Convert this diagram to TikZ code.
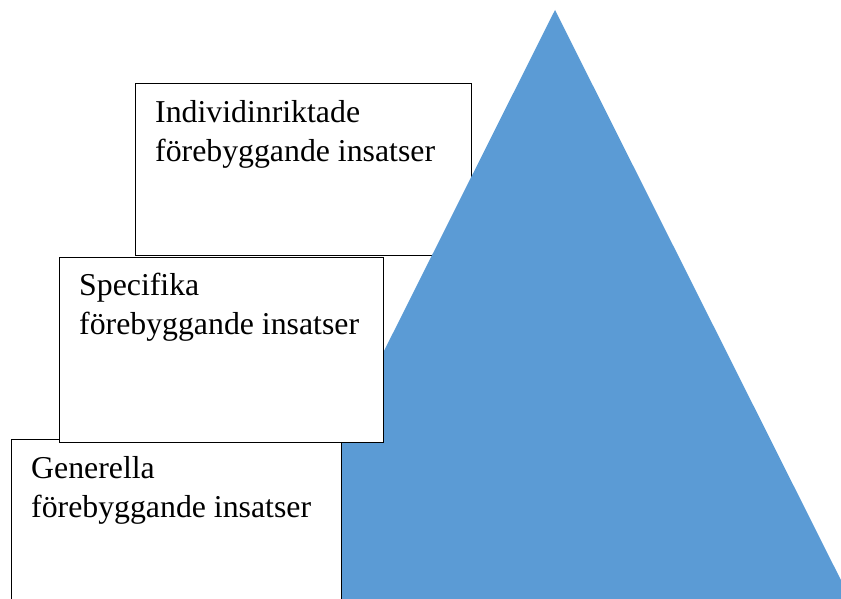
\documentclass[tikz,border=0pt]{standalone}
\usepackage{fontspec}
\setmainfont{Liberation Serif}
\definecolor{pyr}{HTML}{5B9BD5}
\tikzset{
  box/.style={draw=black, line width=1.3pt, fill=white, rectangle, inner sep=0pt, anchor=north west},
  lbl/.style={anchor=base west, align=left, inner sep=0pt, font=\fontsize{31.8}{38.5}\selectfont}
}
\begin{document}
\begin{tikzpicture}[x=1pt,y=-1pt]
\useasboundingbox (0,0) rectangle (841,599);
\clip (0,0) rectangle (841,599);
% top box (behind the triangle)
\node[box, minimum width=336pt, minimum height=172pt] (b1) at (135,83) {};
% pyramid
\fill[pyr] (555,10) coordinate (apex) -- (876,650) -- (234,650) -- cycle;
% bottom box
\node[box, minimum width=330pt, minimum height=200pt] (b3) at (11,439) {};
% middle box
\node[box, minimum width=324pt, minimum height=185pt] (b2) at (59,257) {};
% labels (anchor is the baseline of the second line)
\node[lbl] (t1) at (155,161) {Individinriktade\\förebyggande insatser};
\node[lbl] (t2) at (79,334) {Specifika\\förebyggande insatser};
\node[lbl] (t3) at (31,517) {Generella\\förebyggande insatser};
\end{tikzpicture}
\end{document}
